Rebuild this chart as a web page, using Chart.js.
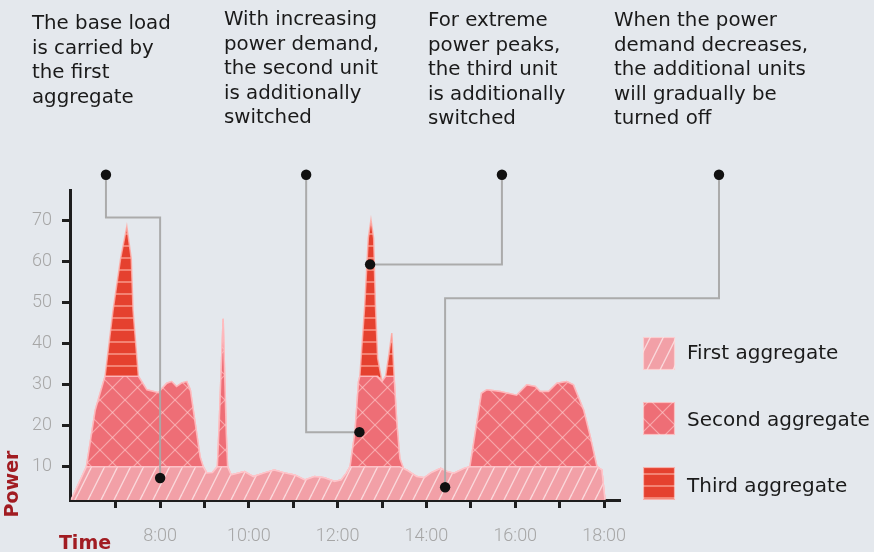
<!DOCTYPE html>
<html>
<head>
<meta charset="utf-8">
<script src="https://cdn.jsdelivr.net/npm/chart.js@4.4.1/dist/chart.umd.min.js"></script>
<style>
html,body{margin:0;padding:0;background:#e4e8ed;}
#wrap{position:relative;width:874px;height:552px;overflow:hidden;background:#e4e8ed;}
#c{position:absolute;left:0;top:0;}
.note{position:absolute;font-family:"DejaVu Sans",Verdana,sans-serif;font-size:19.8px;line-height:24.5px;color:#1a1a1a;white-space:nowrap;}
.axt{position:absolute;font-family:"DejaVu Sans",sans-serif;font-weight:bold;font-size:19px;color:#a11c22;white-space:nowrap;}
</style>
</head>
<body>
<div id="wrap">
  <canvas id="c" width="874" height="552"></canvas>
  <div class="note" style="left:32px;top:11px;">The base load<br>is carried by<br>the first<br>aggregate</div>
  <div class="note" style="left:224px;top:7px;">With increasing<br>power demand,<br>the second unit<br>is additionally<br>switched</div>
  <div class="note" style="left:428px;top:8px;">For extreme<br>power peaks,<br>the third unit<br>is additionally<br>switched</div>
  <div class="note" style="left:614px;top:8px;">When the power<br>demand decreases,<br>the additional units<br>will gradually be<br>turned off</div>
  <div class="axt" style="left:11px;top:484px;transform:translate(-50%,-50%) rotate(-90deg);">Power</div>
  <div class="axt" style="left:85px;top:542px;transform:translate(-50%,-50%);">Time</div>
</div>
<script>
// ---- data (hours of day, power values per aggregate) ----
const times = [
  6.00, 6.34, 6.54, 6.76, 6.94, 7.11, 7.25, 7.35, 7.39, 7.51,
  7.70, 7.96, 8.15, 8.26, 8.37, 8.49, 8.60, 8.68, 8.79, 8.90,
  8.97, 9.05, 9.18, 9.29, 9.33, 9.37, 9.42, 9.46, 9.49, 9.52,
  9.60, 9.90, 10.10, 10.35, 10.57, 10.80, 11.03, 11.26, 11.48, 11.70,
  11.93, 12.08, 12.20, 12.28, 12.39, 12.47, 12.50, 12.61, 12.69, 12.75,
  12.81, 12.85, 12.90, 13.00, 13.08, 13.15, 13.22, 13.27, 13.33, 13.40,
  13.48, 13.55, 13.78, 13.95, 14.10, 14.32, 14.47, 14.62, 14.85, 14.98,
  15.24, 15.36, 15.66, 16.03, 16.26, 16.45, 16.56, 16.75, 16.94, 17.16,
  17.31, 17.54, 17.69, 17.84, 17.95, 18.02
];
const firstAgg = [
  2, 10, 10, 10, 10, 10, 10, 10, 10, 10,
  10, 10, 10, 10, 10, 10, 10, 10, 10, 10,
  10, 8.5, 8.6, 10, 10, 10, 10, 10, 10, 10,
  8, 8.8, 7.6, 8.5, 9.2, 8.5, 8, 6.8, 7.6, 7.3,
  6.4, 6.8, 8.5, 10, 10, 10, 10, 10, 10, 10,
  10, 10, 10, 10, 10, 10, 10, 10, 10, 10,
  9.6, 9.2, 7.6, 7.3, 8.5, 9.6, 8.8, 8.4, 9.6, 10,
  10, 10, 10, 10, 10, 10, 10, 10, 10, 10,
  10, 10, 10, 10, 9.2, 2
];
const secondAgg = [
  0, 0, 13.8, 22, 22, 22, 22, 22, 22, 22,
  18.7, 18, 20.3, 20.7, 19.5, 20.4, 20.7, 18.7, 10.6, 2.4,
  0, 0, 0, 0, 10, 22, 36, 20, 8, 0,
  0, 0, 0, 0, 0, 0, 0, 0, 0, 0,
  0, 0, 0, 0, 8.5, 20.7, 22, 22, 22, 22,
  22, 22, 22, 20.7, 22, 22, 22, 22, 11, 2,
  0, 0, 0, 0, 0, 0, 0, 0, 0, 0,
  17.9, 18.7, 18.3, 17.4, 19.9, 19.5, 18.3, 18.3, 20.3, 20.7,
  19.9, 13.8, 7.3, 0, 0, 0
];
const thirdAgg = [
  0, 0, 0, 0, 16, 28.6, 36.4, 28.6, 16, 0,
  0, 0, 0, 0, 0, 0, 0, 0, 0, 0,
  0, 0, 0, 0, 0, 0, 0, 0, 0, 0,
  0, 0, 0, 0, 0, 0, 0, 0, 0, 0,
  0, 0, 0, 0, 0, 0, 0, 17.3, 33.6, 38,
  33.6, 17.3, 4.4, 0, 0, 5, 10.5, 0, 0, 0,
  0, 0, 0, 0, 0, 0, 0, 0, 0, 0,
  0, 0, 0, 0, 0, 0, 0, 0, 0, 0,
  0, 0, 0, 0, 0, 0
];
const seriesNames = ['First aggregate', 'Second aggregate', 'Third aggregate'];
const yTickValues = [10, 20, 30, 40, 50, 60, 70];
const xTickHours = [7, 8, 9, 10, 11, 12, 13, 14, 15, 16, 17, 18];
const xTickLabels = {8: '8:00', 10: '10:00', 12: '12:00', 14: '14:00', 16: '16:00', 18: '18:00'};
// callout connector paths in (hour, power) space
const callouts = [
  [[6.78, 81], [6.78, 70.6], [8.0, 70.6], [8.0, 7.25]],
  [[11.29, 81], [11.29, 18.4], [12.49, 18.4]],
  [[15.70, 81], [15.70, 59.2], [12.73, 59.2]],
  [[20.59, 81], [20.59, 51.0], [14.42, 51.0], [14.42, 5.0]]
];

const canvas = document.getElementById('c');
const ctx = canvas.getContext('2d');

function makePattern(base, w, h, draw) {
  const c = document.createElement('canvas');
  c.width = w; c.height = h;
  const g = c.getContext('2d');
  g.fillStyle = base;
  g.fillRect(0, 0, w, h);
  draw(g, w, h);
  return ctx.createPattern(c, 'repeat');
}
const patFirst = makePattern('#f2a0a7', 13, 26, (g, w, h) => {
  g.strokeStyle = 'rgba(255,255,255,0.6)';
  g.lineWidth = 1.4;
  for (const dx of [-w, 0, w]) { g.beginPath(); g.moveTo(dx, h); g.lineTo(dx + w, 0); g.stroke(); }
});
const patSecond = makePattern('#ee6e76', 25, 25, (g, w, h) => {
  g.strokeStyle = 'rgba(255,215,215,0.55)';
  g.lineWidth = 1.2;
  for (const dx of [-w, 0, w]) {
    g.beginPath(); g.moveTo(dx, 0); g.lineTo(dx + w, h); g.stroke();
    g.beginPath(); g.moveTo(dx, h); g.lineTo(dx + w, 0); g.stroke();
  }
});
const patThird = makePattern('#e5412f', 4, 12, (g, w, h) => {
  g.strokeStyle = 'rgba(255,185,170,0.85)';
  g.lineWidth = 1.3;
  g.beginPath(); g.moveTo(0, 6); g.lineTo(w, 6); g.stroke();
});

const toXY = arr => times.map((t, i) => ({x: t, y: arr[i]}));

const calloutPlugin = {
  id: 'callouts',
  afterDatasetsDraw(chart) {
    const c = chart.ctx, xs = chart.scales.x, ys = chart.scales.y;
    c.save();
    c.strokeStyle = 'rgba(168,168,168,0.95)';
    c.lineWidth = 2;
    callouts.forEach(path => {
      c.beginPath();
      path.forEach((p, i) => {
        const px = xs.getPixelForValue(p[0]), py = ys.getPixelForValue(p[1]);
        if (i === 0) c.moveTo(px, py); else c.lineTo(px, py);
      });
      c.stroke();
    });
    c.fillStyle = '#111';
    callouts.forEach(path => {
      [path[0], path[path.length - 1]].forEach(p => {
        c.beginPath();
        c.arc(xs.getPixelForValue(p[0]), ys.getPixelForValue(p[1]), 5.2, 0, Math.PI * 2);
        c.fill();
      });
    });
    c.restore();
  }
};

const legendPlugin = {
  id: 'sideLegend',
  afterDraw(chart) {
    const c = chart.ctx;
    c.save();
    chart.data.datasets.forEach((ds, i) => {
      const bx = 643, by = 337 + i * 65;
      c.fillStyle = ds.backgroundColor;
      c.fillRect(bx, by, 32, 33);
      c.strokeStyle = 'rgba(255,225,225,0.7)';
      c.lineWidth = 1.2;
      c.strokeRect(bx + 0.5, by + 0.5, 31, 32);
      c.fillStyle = '#1a1a1a';
      c.font = '20px "DejaVu Sans", Verdana, sans-serif';
      c.textBaseline = 'middle';
      c.fillText(ds.label, 687, 354 + i * 66.5);
    });
    c.restore();
  }
};

new Chart(ctx, {
  type: 'line',
  data: {
    datasets: [
      {label: seriesNames[0], data: toXY(firstAgg), backgroundColor: patFirst, borderColor: 'rgba(255,200,205,0.9)', borderWidth: 1.5, fill: 'origin', pointRadius: 0, tension: 0},
      {label: seriesNames[1], data: toXY(secondAgg), backgroundColor: patSecond, borderColor: 'rgba(255,190,195,0.85)', borderWidth: 1.5, fill: '-1', pointRadius: 0, tension: 0},
      {label: seriesNames[2], data: toXY(thirdAgg), backgroundColor: patThird, borderColor: 'rgba(255,170,165,0.85)', borderWidth: 1.5, fill: '-1', pointRadius: 0, tension: 0}
    ]
  },
  options: {
    responsive: false,
    animation: false,
    devicePixelRatio: 1,
    layout: {padding: {left: 0, right: 254, top: 190, bottom: 0}},
    plugins: {legend: {display: false}, tooltip: {enabled: false}},
    scales: {
      x: {
        type: 'linear', min: 5.97, max: 18.36,
        afterFit(s) { s.height = 52; },
        afterBuildTicks(s) { s.ticks = xTickHours.map(v => ({value: v})); },
        border: {display: true, color: '#1e1e1e', width: 3},
        grid: {drawOnChartArea: false, drawTicks: true, tickLength: 8, tickColor: '#1e1e1e', tickWidth: 3},
        ticks: {
          autoSkip: false, maxRotation: 0, padding: 18,
          color: '#a6a6a6', font: {family: 'Roboto', size: 18, weight: '300'},
          callback: v => xTickLabels[v] || ''
        }
      },
      y: {
        stacked: true, min: 1.9, max: 77.3,
        afterFit(s) { s.width = 70; },
        afterBuildTicks(s) { s.ticks = yTickValues.map(v => ({value: v})); },
        border: {display: true, color: '#1e1e1e', width: 3},
        grid: {drawOnChartArea: false, drawTicks: true, tickLength: 8, tickColor: '#1e1e1e', tickWidth: 3},
        ticks: {
          padding: 10, color: '#a6a6a6', font: {family: 'Roboto', size: 18, weight: '300'},
          callback: v => String(v)
        }
      }
    }
  },
  plugins: [calloutPlugin, legendPlugin]
});
</script>
</body>
</html>
